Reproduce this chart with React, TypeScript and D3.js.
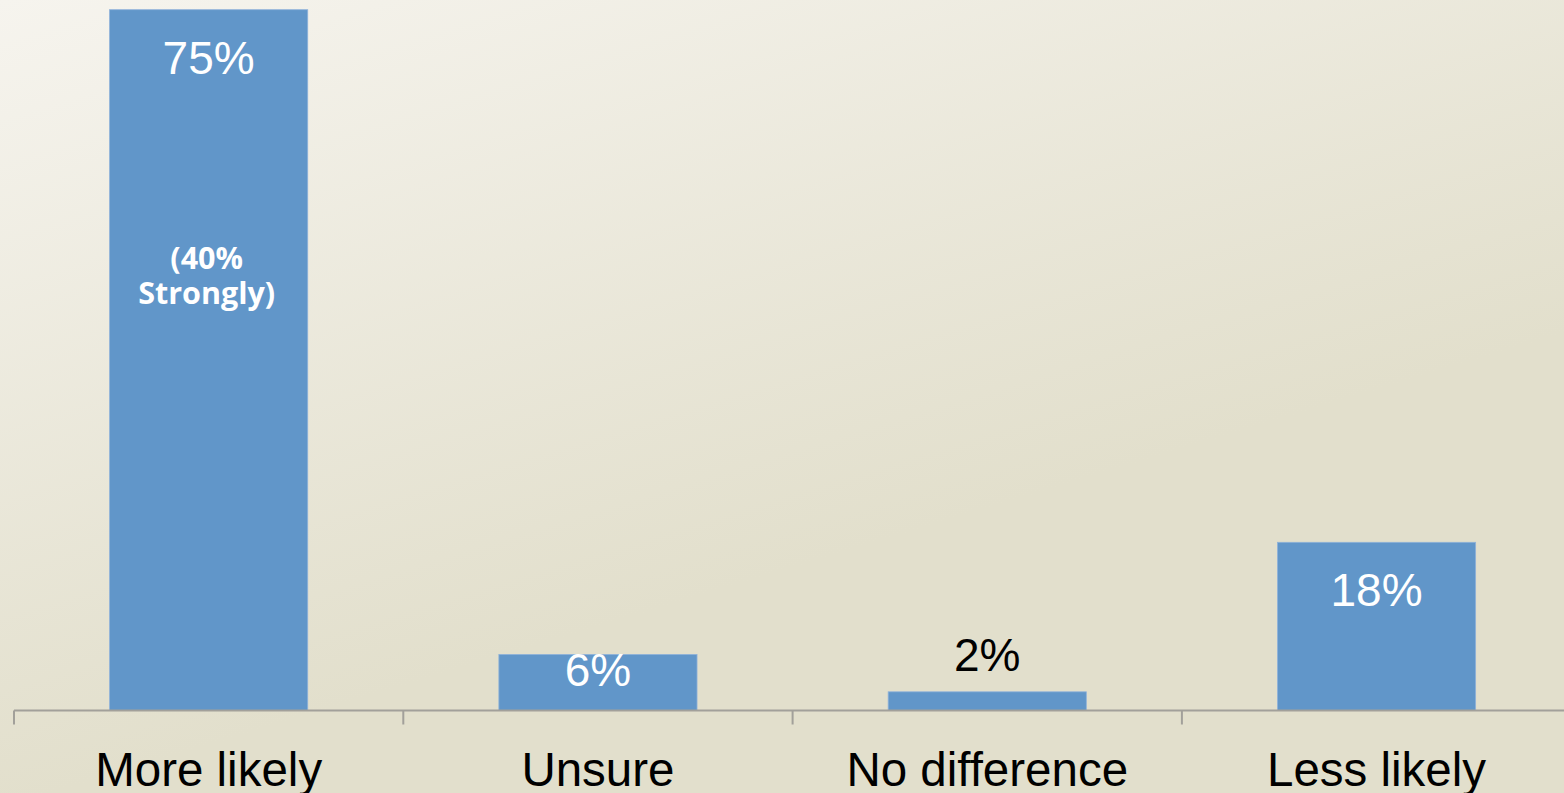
import React from "react";
import * as d3 from "d3";

const categories = ["More likely", "Unsure", "No difference", "Less likely"];
const values = [75, 6, 2, 18];
const valueLabels = ["75%", "6%", "2%", "18%"];
const noteLines = ["(40%", "Strongly)"];

const W = 1564;
const H = 793;

export default function App() {
  const axisY = 710.5;
  const x = d3
    .scaleBand<string>()
    .domain(categories)
    .range([14, 14 + 4 * 389.3])
    .paddingInner(0.491)
    .paddingOuter(0.2455);
  const y = d3.scaleLinear().domain([0, 75]).range([axisY, 9.7]);
  const step = x.step();
  const tickXs = d3.range(categories.length + 1).map((i) => 14 + i * step);

  return (
    <svg
      width={W}
      height={H}
      style={{ position: "absolute", left: 0, top: 0, display: "block" }}
    >
      <defs>
        <linearGradient id="bg" x1="0" y1="0" x2="0.45" y2="0.75">
          <stop offset="0" stopColor="#f6f4ee" />
          <stop offset="1" stopColor="#e2dfcc" />
        </linearGradient>
      </defs>
      <rect x={0} y={0} width={W} height={H} fill="url(#bg)" />
      {categories.map((c, i) => {
        const bx = x(c)!;
        const top = y(values[i]);
        return (
          <rect
            key={c}
            x={bx}
            y={top}
            width={x.bandwidth()}
            height={axisY - top}
            fill="#6196c9"
            stroke="#8fb2da"
            strokeWidth={0.8}
          />
        );
      })}
      <line x1={14} x2={W + 10} y1={axisY} y2={axisY} stroke="#a2a09a" strokeWidth={2} />
      {tickXs.map((tx, i) => (
        <line key={i} x1={tx} x2={tx} y1={axisY} y2={axisY + 14} stroke="#a2a09a" strokeWidth={2} />
      ))}
      {categories.map((c, i) => {
        const cx = x(c)! + x.bandwidth() / 2;
        const top = y(values[i]);
        const h = axisY - top;
        const inside = h > 40;
        const base = inside ? Math.min(top + 64, axisY - 25) : top - 21;
        return (
          <text
            key={c}
            x={cx}
            y={base}
            textAnchor="middle"
            fontFamily="'Liberation Sans', Arial, sans-serif"
            fontSize={46}
            fill={inside ? "#ffffff" : "#000000"}
          >
            {valueLabels[i]}
          </text>
        );
      })}
      {noteLines.map((t, i) => (
        <text
          key={t}
          x={x(categories[0])! + x.bandwidth() / 2 - 2}
          y={269 + i * 35}
          textAnchor="middle"
          fontFamily="'Open Sans', sans-serif"
          fontWeight={700}
          fontSize={30.5}
          fill="#ffffff"
        >
          {t}
        </text>
      ))}
      {categories.map((c) => (
        <text
          key={c}
          x={x(c)! + x.bandwidth() / 2}
          y={786}
          textAnchor="middle"
          fontFamily="'Liberation Sans', Arial, sans-serif"
          fontSize={47.5}
          fill="#000000"
        >
          {c}
        </text>
      ))}
    </svg>
  );
}
